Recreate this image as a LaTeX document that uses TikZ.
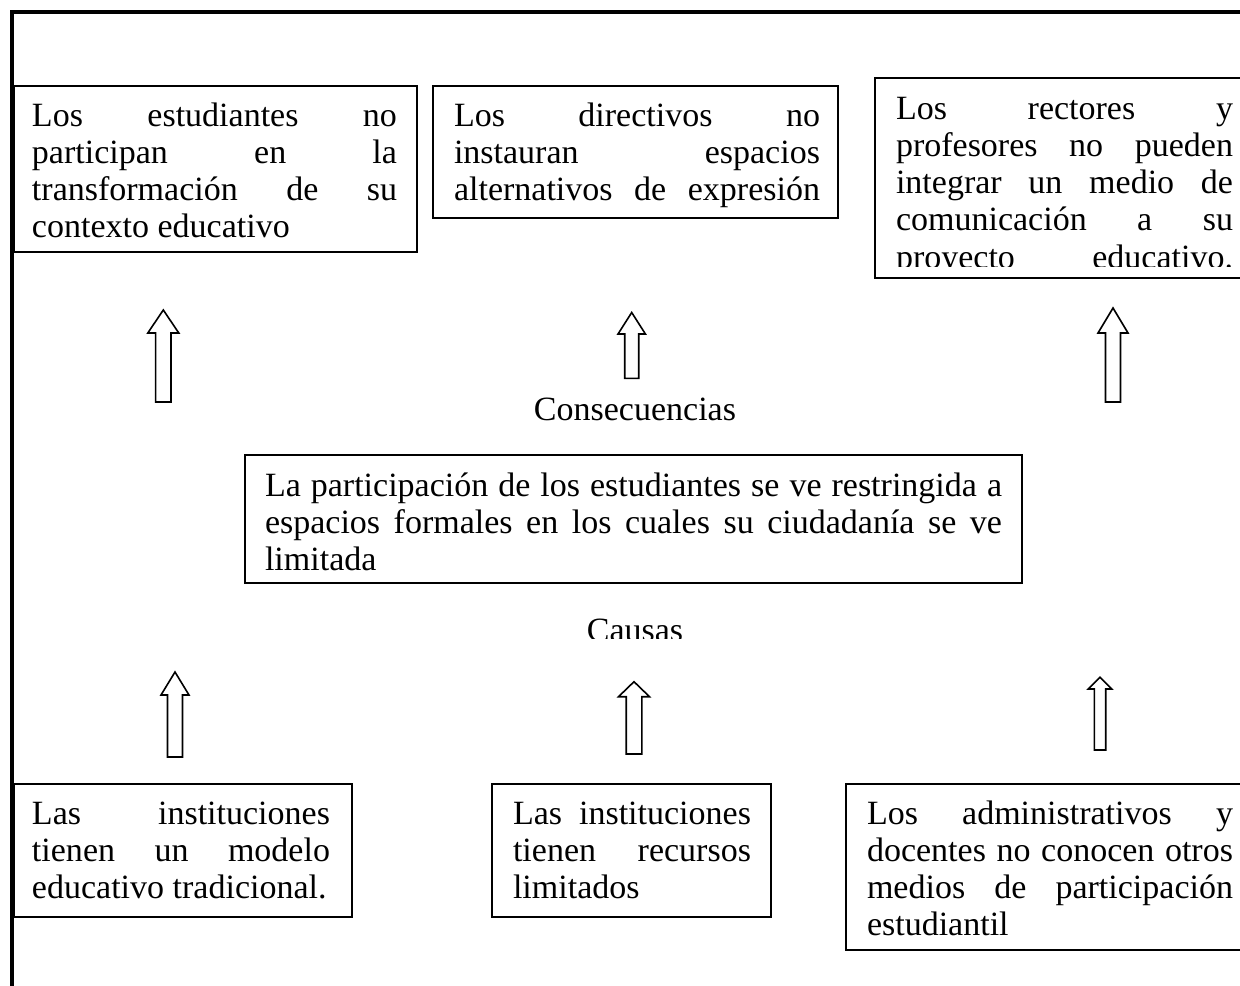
\documentclass[tikz,border=0pt]{standalone}
\usepackage{fontspec}
\setmainfont{Liberation Serif}
\newcommand\JL[1]{\hbox to\hsize{#1}}
\newcommand\NL[1]{\hbox{#1}}
\newcommand\txtblock[2]{\vtop{\hsize=#1\relax\parskip=0pt\baselineskip=18.65pt\lineskip=0pt\lineskiplimit=-30pt #2}}
\newcommand\blockup[6]{% x, tip y, base y, head base y, head half width, shaft half width
  \draw[arrowst] (#1,#2) -- (#1+#5,#4) -- (#1+#6,#4) -- (#1+#6,#3) -- (#1-#6,#3) -- (#1-#6,#4) -- (#1-#5,#4) -- cycle;}
\tikzset{
  boxst/.style={draw=black, line width=1pt, inner sep=0pt, outer sep=0pt, fill=none, anchor=north west},
  txtst/.style={anchor=base west, inner sep=0pt, outer sep=0pt},
  labst/.style={anchor=base, inner sep=0pt, outer sep=0pt},
  arrowst/.style={draw=black, line width=0.8pt, fill=white, line join=miter},
  framest/.style={draw=black, line width=2pt, line join=miter}
}
\begin{document}
\begin{tikzpicture}[x=0.5pt,y=-0.5pt,font=\fontsize{17pt}{18.65pt}\selectfont]
\useasboundingbox (0,0) rectangle (1240,985);
\fill[white] (0,0) rectangle (1240,985);
% frame
\coordinate (fbl) at (12,995);
\coordinate (ftl) at (12,12);
\coordinate (ftr) at (1250,12);
\draw[framest] (fbl) -- (ftl) -- (ftr);
% top boxes
\node[boxst, minimum width=201.5pt, minimum height=83pt] (b1) at (14,86) {};
\node[txtst] (t1) at (32,126) {\txtblock{182.5pt}{%
  \JL{Los estudiantes no}
  \JL{participan en la}
  \JL{transformación de su}
  \NL{contexto educativo}}};
\node[boxst, minimum width=202.5pt, minimum height=66pt] (b2) at (433,86) {};
\node[txtst] (t2) at (454,126) {\txtblock{183pt}{%
  \JL{Los directivos no}
  \JL{instauran espacios}
  \JL{alternativos de expresión}}};
\node[boxst, minimum width=189pt, minimum height=100pt] (b3) at (875,78) {};
\begin{scope}
  \clip (876,79) rectangle (1253,266);
  \node[txtst] (t3) at (896,119) {\txtblock{168.5pt}{%
    \JL{Los rectores y}
    \JL{profesores no pueden}
    \JL{integrar un medio de}
    \JL{comunicación a su}
    \JL{proyecto educativo.}}};
\end{scope}
% top arrows
\blockup{163.3}{310}{402}{333}{15.5}{7.7}
\blockup{631.7}{312.5}{378.3}{334}{13.7}{7}
\blockup{1113}{308}{402}{333}{15}{7.5}
\node[labst] (cons) at (635,420) {Consecuencias};
% middle box
\node[boxst, minimum width=388.5pt, minimum height=64pt] (mid) at (245,455) {};
\node[txtst] (tm) at (265,496) {\txtblock{368.5pt}{%
  \JL{La participación de los estudiantes se ve restringida a}
  \JL{espacios formales en los cuales su ciudadanía se ve}
  \NL{limitada}}};
\begin{scope}
  \clip (500,590) rectangle (770,638);
  \node[labst] (causas) at (635,641) {Causas};
\end{scope}
% bottom arrows
\blockup{175}{672}{757}{695}{14}{7.5}
\blockup{634}{681.7}{754}{696.7}{15.5}{7.8}
\blockup{1100}{677.3}{750}{689}{11.7}{5.7}
% bottom boxes
\node[boxst, minimum width=169pt, minimum height=66.5pt] (ba) at (14,784) {};
\node[txtst] (ta) at (32,824) {\txtblock{149pt}{%
  \JL{Las instituciones}
  \JL{tienen un modelo}
  \NL{educativo tradicional.}}};
\node[boxst, minimum width=139.5pt, minimum height=66.5pt] (bb) at (492,784) {};
\node[txtst] (tb) at (513,824) {\txtblock{119pt}{%
  \JL{Las instituciones}
  \JL{tienen recursos}
  \NL{limitados}}};
\node[boxst, minimum width=203.5pt, minimum height=83pt] (bc) at (846,784) {};
\node[txtst] (tc) at (867,824) {\txtblock{183pt}{%
  \JL{Los administrativos y}
  \JL{docentes no conocen otros}
  \JL{medios de participación}
  \NL{estudiantil}}};
\end{tikzpicture}
\end{document}
